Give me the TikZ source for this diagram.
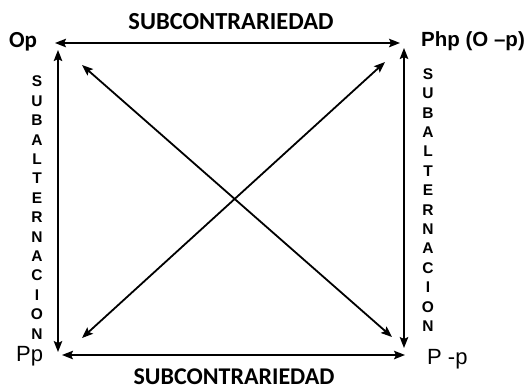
\documentclass[tikz,border=0pt]{standalone}
\usepackage{fontspec}
\setmainfont{Liberation Sans}
\newfontfamily\calib{Carlito}
\usetikzlibrary{arrows.meta}
\tikzset{
  conn/.style={line width=1.8pt, {Stealth[length=11pt,width=8.5pt,inset=2pt]}-{Stealth[length=11pt,width=8.5pt,inset=2pt]}},
  title/.style={font=\calib\bfseries\fontsize{24.5}{26}\selectfont, inner sep=0pt},
  corner/.style={inner sep=0pt},
  vert/.style={font=\bfseries\fontsize{15.5}{19.4}\selectfont, align=center, inner sep=0pt}
}
\begin{document}
\begin{tikzpicture}[x=1pt,y=-1pt]
\useasboundingbox (0,0) rectangle (527,389);
% endpoints
\coordinate (tl) at (55,43);
\coordinate (tr) at (400,43);
\coordinate (bl) at (62,355);
\coordinate (br) at (405,355);
\coordinate (lt) at (58,50);
\coordinate (lb) at (58,352);
\coordinate (rt) at (404,48);
\coordinate (rb) at (404,348);
\coordinate (d1a) at (82,65);
\coordinate (d1b) at (392,337);
\coordinate (d2a) at (82,338);
\coordinate (d2b) at (385,62);
% connectors
\draw[conn] (tl) -- (tr);
\draw[conn] (bl) -- (br);
\draw[conn] (lt) -- (lb);
\draw[conn] (rt) -- (rb);
\draw[conn] (d1a) -- (d1b);
\draw[conn] (d2a) -- (d2b);
% labels
\node[title] (top) at (231,22) {SUBCONTRARIEDAD};
\node[title, font=\calib\bfseries\fontsize{24}{26}\selectfont] (bot) at (234,376.5) {SUBCONTRARIEDAD};
\node[corner, font=\calib\bfseries\fontsize{23}{25}\selectfont, anchor=west] (op) at (9,42) {Op};
\node[corner, font=\bfseries\fontsize{20.5}{23}\selectfont, anchor=west] (php) at (421,41) {Php (O –p)};
\node[corner, font=\fontsize{22}{24}\selectfont, anchor=west] (pp) at (16,356) {Pp};
\node[corner, font=\fontsize{22}{24}\selectfont, anchor=west] (pmp) at (427,359) {P -p};
\node[vert] (subl) at (37,207.5) {S\\U\\B\\A\\L\\T\\E\\R\\N\\A\\C\\I\\O\\N};
\node[vert] (subr) at (428,200) {S\\U\\B\\A\\L\\T\\E\\R\\N\\A\\C\\I\\O\\N};
\end{tikzpicture}
\end{document}
